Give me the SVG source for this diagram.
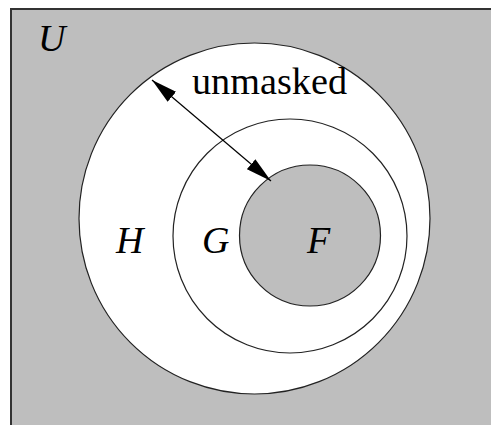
<svg xmlns="http://www.w3.org/2000/svg" width="491" height="425" viewBox="0 0 491 425">
<style>
.c{stroke:#222;stroke-width:1.2}
.t{font-family:"Liberation Serif","DejaVu Serif",serif;fill:#000}
.i{font-style:italic;font-size:38px}
</style>
<defs>
<marker id="ah" viewBox="0 0 26 13" refX="26" refY="6.5" markerWidth="26" markerHeight="13" markerUnits="userSpaceOnUse" orient="auto-start-reverse">
<path d="M0,0 L26,6.5 L0,13 Z" fill="#000"/>
</marker>
</defs>
<rect x="0" y="0" width="491" height="425" fill="#fff"/>
<g id="U"><rect x="11" y="9" width="490" height="430" fill="#bebebe" stroke="#333" stroke-width="2"/>
<text class="t i" x="38" y="51">U</text></g>
<g id="H"><circle class="c" cx="254.5" cy="218.5" r="175.5" fill="#fff"/>
<text class="t i" x="116" y="253">H</text></g>
<g id="G"><circle class="c" cx="290" cy="236" r="117" fill="#fff"/>
<text class="t i" x="202" y="253">G</text></g>
<g id="F"><circle class="c" cx="310" cy="235.5" r="70.5" fill="#bebebe"/>
<text class="t i" x="307" y="253">F</text></g>
<g id="connectors">
<line x1="152" y1="80" x2="271" y2="181" stroke="#000" stroke-width="1.2" marker-start="url(#ah)" marker-end="url(#ah)"/>
<text class="t" x="192" y="94" font-size="38" textLength="155" lengthAdjust="spacingAndGlyphs">unmasked</text>
</g>
</svg>
